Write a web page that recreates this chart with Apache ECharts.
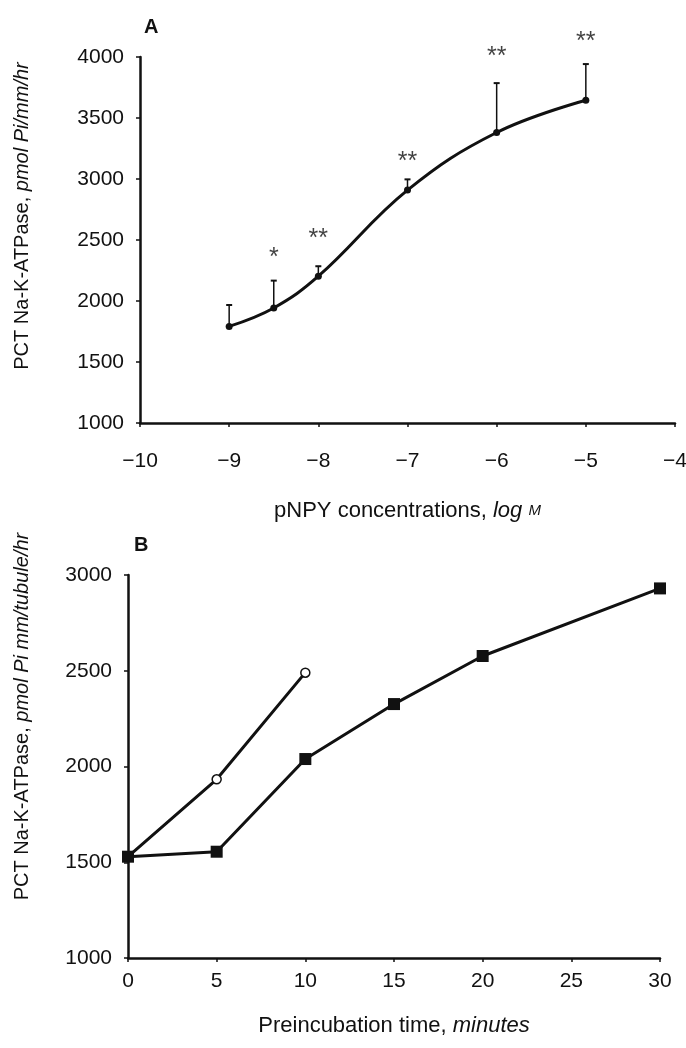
<!DOCTYPE html>
<html>
<head>
<meta charset="utf-8">
<script src="https://cdn.jsdelivr.net/npm/echarts@6/dist/echarts.min.js"></script>
<style>
  html, body { margin: 0; padding: 0; background: #fff; }
  #chart { width: 686px; height: 1048px; }
</style>
</head>
<body>
<div id="chart"></div>
<script>
// ---- panel A: dose response ----
const concA = [-9, -8.5, -8, -7, -6, -5];
const meanA = [1792, 1943, 2203, 2909, 3381, 3646];
const errTopA = [1967, 2167, 2285, 2997, 3786, 3942];
const starY = [null, 2397, 2553, 3186, 4047, 4172];
const starText = ['', '*', '**', '**', '**', '**'];

// ---- panel B: time course ----
const timeSquare = [0, 5, 10, 15, 20, 30];
const valSquare = [1529, 1555, 2039, 2326, 2577, 2930];
const timeCircle = [0, 5, 10];
const valCircle = [1529, 1933, 2490];

const FONT = '"Liberation Sans", Arial, sans-serif';
const INK = '#111';

const minusFmt = v => (v < 0 ? '\u2212' + Math.abs(v) : String(v));
const plainFmt = v => String(v);

const axisCommon = {
  axisLine: { show: true, onZero: false, lineStyle: { color: INK, width: 2.5 } },
  axisTick: { show: true, inside: false, length: 4, lineStyle: { color: INK, width: 1.5 } },
  splitLine: { show: false },
  axisLabel: { color: INK, fontFamily: FONT, fontSize: 21 },
  nameTextStyle: { color: INK, fontFamily: FONT, fontSize: 20 }
};

// rich styles for the axis names (italic unit part)
const nameRich = {
  n: { fontFamily: FONT, fontSize: 20, color: INK },
  i: { fontFamily: FONT, fontSize: 20, color: INK, fontStyle: 'italic' },
  s: { fontFamily: FONT, fontSize: 14, color: INK, fontStyle: 'italic' }
};
const xNameRich = {
  n: { fontFamily: FONT, fontSize: 22, color: INK },
  i: { fontFamily: FONT, fontSize: 22, color: INK, fontStyle: 'italic' },
  s: { fontFamily: FONT, fontSize: 15, color: INK, fontStyle: 'italic' }
};

const chart = echarts.init(document.getElementById('chart'), null, { renderer: 'canvas' });

chart.setOption({
  backgroundColor: '#fff',
  animation: false,
  title: [
    { text: 'A', left: 139, top: 12, textStyle: { fontFamily: FONT, fontSize: 20, fontWeight: 'bold', color: INK } },
    { text: 'B', left: 129, top: 530, textStyle: { fontFamily: FONT, fontSize: 20, fontWeight: 'bold', color: INK } }
  ],
  grid: [
    { left: 140, top: 57, width: 535, height: 366, outerBoundsMode: 'none' },
    { left: 128, top: 575, width: 532, height: 383, outerBoundsMode: 'none' }
  ],
  xAxis: [
    Object.assign({}, axisCommon, {
      type: 'value', gridIndex: 0, min: -10, max: -4, interval: 1,
      axisLabel: Object.assign({}, axisCommon.axisLabel, { margin: 28, formatter: minusFmt }),
      name: '{n|pNPY concentrations, }{i|log }{s|M}',
      nameLocation: 'middle', nameGap: 77,
      nameTextStyle: Object.assign({}, axisCommon.nameTextStyle, { rich: xNameRich })
    }),
    Object.assign({}, axisCommon, {
      type: 'value', gridIndex: 1, min: 0, max: 30, interval: 5,
      axisLabel: Object.assign({}, axisCommon.axisLabel, { margin: 13, formatter: plainFmt }),
      name: '{n|Preincubation time, }{i|minutes}',
      nameLocation: 'middle', nameGap: 57,
      nameTextStyle: Object.assign({}, axisCommon.nameTextStyle, { rich: xNameRich })
    })
  ],
  yAxis: [
    Object.assign({}, axisCommon, {
      type: 'value', gridIndex: 0, min: 1000, max: 4000, interval: 500,
      axisLabel: Object.assign({}, axisCommon.axisLabel, { margin: 16, formatter: plainFmt }),
      name: '{n|PCT Na-K-ATPase, }{i|pmol Pi/mm/hr}',
      nameLocation: 'middle', nameRotate: 90, nameGap: 108,
      nameTextStyle: Object.assign({}, axisCommon.nameTextStyle, { rich: nameRich, padding: [0, 0, 0, 48] })
    }),
    Object.assign({}, axisCommon, {
      type: 'value', gridIndex: 1, min: 1000, max: 3000, interval: 500,
      axisLabel: Object.assign({}, axisCommon.axisLabel, { margin: 16, formatter: plainFmt }),
      name: '{n|PCT Na-K-ATPase, }{i|pmol Pi mm/tubule/hr}',
      nameLocation: 'middle', nameRotate: 90, nameGap: 96,
      nameTextStyle: Object.assign({}, axisCommon.nameTextStyle, { rich: nameRich, padding: [0, 0, 0, 100] })
    })
  ],
  series: [
    {
      name: 'pNPY',
      type: 'line',
      xAxisIndex: 0, yAxisIndex: 0,
      data: concA.map((x, i) => [x, meanA[i]]),
      smooth: 0.4,
      symbol: 'circle',
      symbolSize: 7,
      lineStyle: { color: INK, width: 3 },
      itemStyle: { color: INK },
      z: 3
    },
    {
      // upper error bars only
      name: 'SEM',
      type: 'custom',
      xAxisIndex: 0, yAxisIndex: 0,
      data: concA.map((x, i) => [x, meanA[i], errTopA[i]]),
      renderItem: (params, api) => {
        const p1 = api.coord([api.value(0), api.value(1)]);
        const p2 = api.coord([api.value(0), api.value(2)]);
        return {
          type: 'group',
          children: [
            { type: 'line', shape: { x1: p1[0], y1: p1[1], x2: p2[0], y2: p2[1] }, style: { stroke: INK, lineWidth: 1.5 } },
            { type: 'line', shape: { x1: p2[0] - 3, y1: p2[1], x2: p2[0] + 3, y2: p2[1] }, style: { stroke: INK, lineWidth: 2 } }
          ]
        };
      },
      z: 2
    },
    {
      name: 'stars',
      type: 'scatter',
      xAxisIndex: 0, yAxisIndex: 0,
      clip: false,
      symbolSize: 0,
      data: concA.map((x, i) => [x, starY[i], starText[i]]).filter(d => d[1] !== null),
      label: {
        show: true,
        position: 'inside',
        offset: [0, 6],
        formatter: p => p.data[2],
        fontFamily: FONT,
        fontSize: 25,
        color: INK
      }
    },
    {
      name: 'control',
      type: 'line',
      xAxisIndex: 1, yAxisIndex: 1,
      data: timeSquare.map((x, i) => [x, valSquare[i]]),
      symbol: 'rect',
      symbolSize: 12,
      lineStyle: { color: INK, width: 3 },
      itemStyle: { color: INK },
      z: 3
    },
    {
      name: 'pNPY time',
      type: 'line',
      xAxisIndex: 1, yAxisIndex: 1,
      data: timeCircle.map((x, i) => [x, valCircle[i]]),
      symbol: 'circle',
      symbolSize: 9,
      showAllSymbol: true,
      lineStyle: { color: INK, width: 3 },
      itemStyle: { color: '#fff', borderColor: INK, borderWidth: 1.5 },
      z: 2
    }
  ]
});
</script>
</body>
</html>
